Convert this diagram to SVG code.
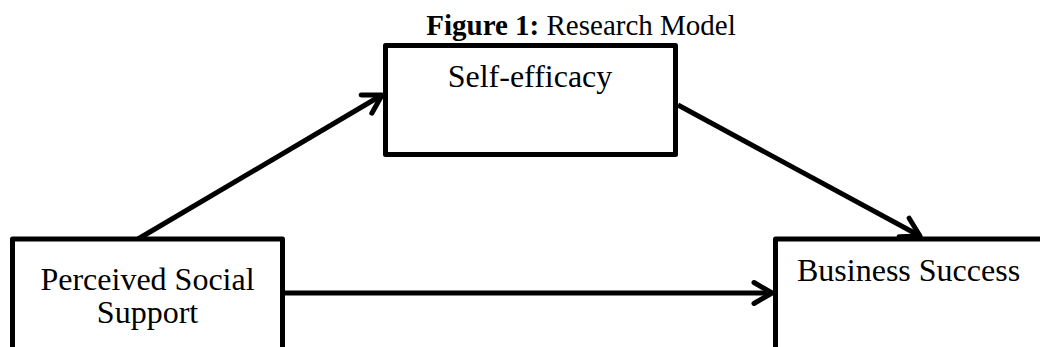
<svg xmlns="http://www.w3.org/2000/svg" width="1040" height="347" viewBox="0 0 1040 347">
<style>
.box{fill:#fff;stroke:#000;stroke-width:5;stroke-linejoin:round}
.lbl{font-family:"Liberation Serif","Times New Roman",serif;font-size:32px;fill:#000}
.title{font-family:"Liberation Serif","Times New Roman",serif;font-size:29px;fill:#000}
.conn{fill:none;stroke:#000;stroke-width:5}
</style>
<defs>
<marker id="arr" markerUnits="userSpaceOnUse" viewBox="-24 -15 28 30" refX="0" refY="0" markerWidth="28" markerHeight="30" orient="auto" overflow="visible">
<path d="M-18,-10.5 L0,0 L-18,10.5" fill="none" stroke="#000" stroke-width="5" stroke-linecap="round" stroke-linejoin="round"/>
</marker>
</defs>
<rect width="1040" height="347" fill="#fff"/>
<text class="title" x="581" y="35" text-anchor="middle"><tspan font-weight="bold">Figure 1:</tspan> Research Model</text>
<g id="connectors">
<line class="conn" x1="138" y1="239" x2="382" y2="95" marker-end="url(#arr)"/>
<line class="conn" x1="678" y1="105" x2="920" y2="236" marker-end="url(#arr)"/>
<line class="conn" x1="285" y1="293" x2="772" y2="293" marker-end="url(#arr)"/>
</g>
<g id="node-self-efficacy">
<rect class="box" x="385.5" y="45.5" width="290" height="109"/>
<text class="lbl" x="530" y="87" text-anchor="middle">Self-efficacy</text>
</g>
<g id="node-perceived-social-support">
<rect class="box" x="12.5" y="239" width="270" height="200"/>
<text class="lbl" x="147.5" y="290" text-anchor="middle">Perceived Social</text>
<text class="lbl" x="147.5" y="323" text-anchor="middle">Support</text>
</g>
<g id="node-business-success">
<rect class="box" x="775.5" y="239" width="300" height="200"/>
<text class="lbl" x="797" y="281">Business Success</text>
</g>
</svg>
